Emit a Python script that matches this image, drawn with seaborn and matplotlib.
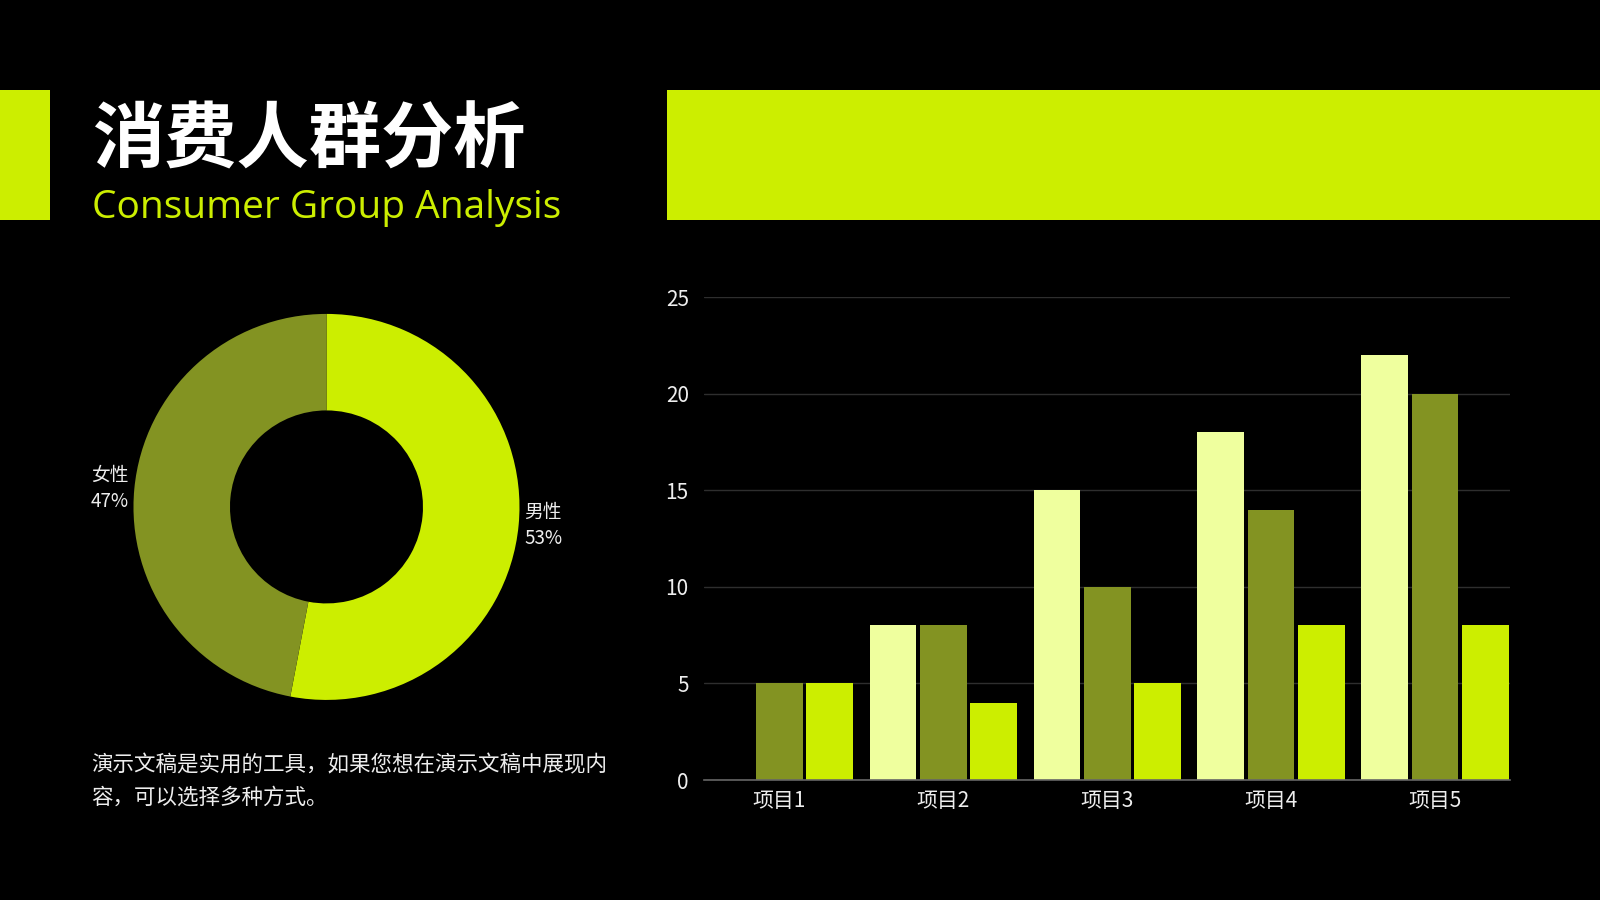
import matplotlib.pyplot as plt
import seaborn as sns
import pandas as pd
from matplotlib.patches import Rectangle

# chart data
items = ['项目1', '项目2', '项目3', '项目4', '项目5']
series_names = ['系列1', '系列2', '系列3']
series1 = [0, 8, 15, 18, 22]
series2 = [5, 8, 10, 14, 20]
series3 = [5, 4, 5, 8, 8]
gender_labels = ['男性', '女性']
gender_share = [53, 47]

title = '消费人群分析'
subtitle = 'Consumer Group Analysis'
note = '演示文稿是实用的工具，如果您想在演示文稿中展现内\n容，可以选择多种方式。'

LIME = '#CCEE00'
OLIVE = '#839322'
PALE = '#EFFF9E'
TEXT = '#EEEEEE'

sns.set_theme(style='dark')
plt.rcParams['font.family'] = ['Noto Sans CJK SC', 'DejaVu Sans']

df = pd.DataFrame({
    'item': items * 3,
    'series': [s for s in series_names for _ in items],
    'value': series1 + series2 + series3,
})

fig = plt.figure(figsize=(16, 9), dpi=100, facecolor='black')

# header blocks
fig.patches.append(Rectangle((0, 0.756), 0.03125, 0.144, transform=fig.transFigure,
                             facecolor=LIME, edgecolor='none', zorder=0))
fig.patches.append(Rectangle((0.417, 0.756), 0.583, 0.144, transform=fig.transFigure,
                             facecolor=LIME, edgecolor='none', zorder=0))

fig.text(0.0575, 0.843, title, fontsize=52, fontweight='bold', color='white', va='center')
fig.text(0.0575, 0.758, subtitle, fontsize=28, color=LIME, va='baseline',
         family=['Open Sans', 'DejaVu Sans'])

# donut
ax_pie = fig.add_axes([0.0834, 0.2223, 0.2413, 0.4289])
ax_pie.set_facecolor('black')
pie_labels = [f'{g}\n{v}%' for g, v in zip(gender_labels, gender_share)]
ax_pie.pie(gender_share, labels=pie_labels, colors=[LIME, OLIVE], startangle=90,
           counterclock=False, labeldistance=1.03,
           wedgeprops=dict(width=0.5, edgecolor='none'),
           textprops=dict(color=TEXT, fontsize=13.5, linespacing=1.3))
ax_pie.set_xlim(-1, 1)
ax_pie.set_ylim(-1, 1)
ax_pie.set_aspect('equal')
ax_pie.axis('off')

fig.text(0.057, 0.132, note, fontsize=15.5, color=TEXT, va='center', linespacing=1.6)

# grouped bars
ax = fig.add_axes([0.44, 0.1333, 0.504, 0.5367])
ax.set_facecolor('black')
sns.barplot(data=df, x='item', y='value', hue='series', hue_order=series_names,
            palette=[PALE, OLIVE, LIME], saturation=1, width=0.92, gap=0.07,
            linewidth=0, edgecolor='none', legend=False, ax=ax)
ax.set_xlim(-0.46, 4.46)
ax.set_ylim(0, 25)
ax.set_yticks(range(0, 26, 5))
ax.set_xlabel('')
ax.set_ylabel('')
ax.set_axisbelow(True)
ax.grid(axis='y', color='#2e2e2e', linewidth=1)
ax.grid(axis='x', visible=False)
for side in ['top', 'right', 'left']:
    ax.spines[side].set_visible(False)
ax.spines['bottom'].set_color('#666666')
ax.spines['bottom'].set_linewidth(1.2)
ax.tick_params(axis='both', length=0, labelsize=15, colors=TEXT)
ax.tick_params(axis='y', pad=11)
ax.tick_params(axis='x', pad=7)

fig.savefig('out.png', dpi=100, facecolor='black')
